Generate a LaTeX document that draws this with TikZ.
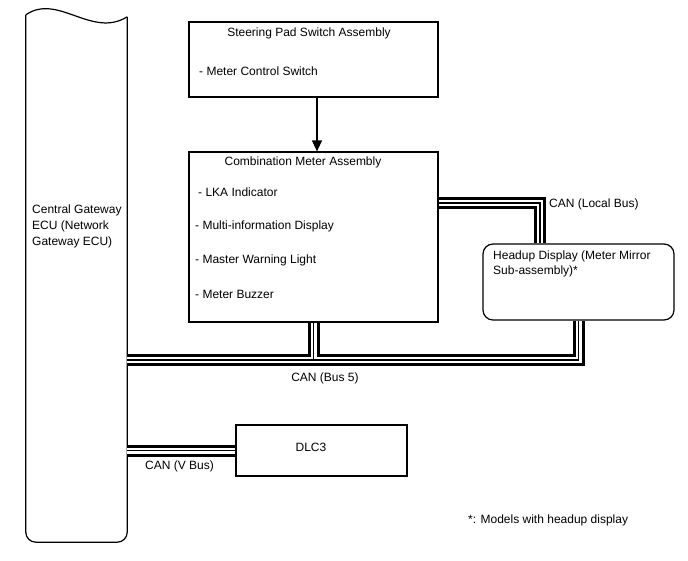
\documentclass[tikz,border=0pt]{standalone}
\usepackage{fontspec}
\setmainfont{Liberation Sans}
\usetikzlibrary{arrows.meta,calc}

\begin{document}
\begin{tikzpicture}[x=1pt, y=-1pt,
    box/.style={draw, line width=1.2pt, inner sep=0pt},
    lbl/.style={inner sep=0pt, font=\fontsize{12}{15}\selectfont},
    bus/.style={line width=12pt,
                postaction={draw, white, line width=6pt},
                postaction={draw, black, line width=1.3pt}}
  ]
    \useasboundingbox (0,0) rectangle (688,560);

    % gateway column with wavy top
    \node[inner sep=0pt, minimum width=101pt, minimum height=525pt] (gw) at (76.5,279.5) {};
    \draw[line width=1.2pt, rounded corners=10pt] ($(gw.north west)+(0,-2)$) -- (gw.south west)
      -- (gw.south east) -- (gw.north east);
    \draw[line width=1.2pt] ($(gw.north west)+(0,-2)$) .. controls ($(gw.north west)+(32,-24)$)
      and ($(gw.north west)+(66,22)$) .. (gw.north east);
    \node[lbl, align=left, anchor=north west, font=\fontsize{12}{16}\selectfont] (gwtext) at (32,205)
      {Central Gateway\\ECU (Network\\Gateway ECU)};

    \node[box, minimum width=249pt, minimum height=75pt] (steer) at (313.5,59.5) {};
    \node[lbl] (steertitle) at (309,33) {Steering Pad Switch Assembly};
    \node[lbl, anchor=west] (steeritem) at (199,71) {- Meter Control Switch};

    \node[box, minimum width=249pt, minimum height=170pt] (meter) at (313.5,237) {};
    \node[lbl] (metertitle) at (303,162) {Combination Meter Assembly};
    \node[lbl, anchor=west] (lka) at (198,192) {- LKA Indicator};
    \node[lbl, anchor=west] (mid) at (195,226) {- Multi-information Display};
    \node[lbl, anchor=west] (mwl) at (195,260) {- Master Warning Light};
    \node[lbl, anchor=west] (buzz) at (195,294) {- Meter Buzzer};

    \draw[line width=1.2pt, -{Triangle[length=11pt, width=10pt]}]
      ([xshift=3.5pt]steer.south) -- ([xshift=3.5pt]meter.north);

    \node[box, rounded corners=10pt, minimum width=191pt, minimum height=76pt] (hud) at (578.5,282) {};
    \node[lbl, align=left, anchor=north west] (hudtext) at (493,251)
      {Headup Display (Meter Mirror\\Sub-assembly)*};

    \node[box, minimum width=171pt, minimum height=51pt] (dlc) at (321.5,450.5) {};
    \node[lbl] (dlctext) at (311,447) {DLC3};

    % CAN lines
    \coordinate (lbus) at (540,203);
    \coordinate (bus5) at (0,360);
    \draw[bus] (meter.east |- lbus) -- (lbus) -- (hud.north -| lbus);
    \draw[bus] (gw.east |- bus5) -- (hud.south |- bus5) -- (hud.south)
      (meter.south) -- (meter.south |- bus5);
    \draw[bus] (gw.east |- dlc.west) -- (dlc.west);

    \node[lbl, anchor=west] (lbuslbl) at (549,204) {CAN (Local Bus)};
    \node[lbl] (bus5lbl) at (325,378) {CAN (Bus 5)};
    \node[lbl, anchor=west] (vbuslbl) at (145,466) {CAN (V Bus)};

    \node[lbl, anchor=west] (note) at (468,520) {*: Models with headup display};
  \end{tikzpicture}
\end{document}
